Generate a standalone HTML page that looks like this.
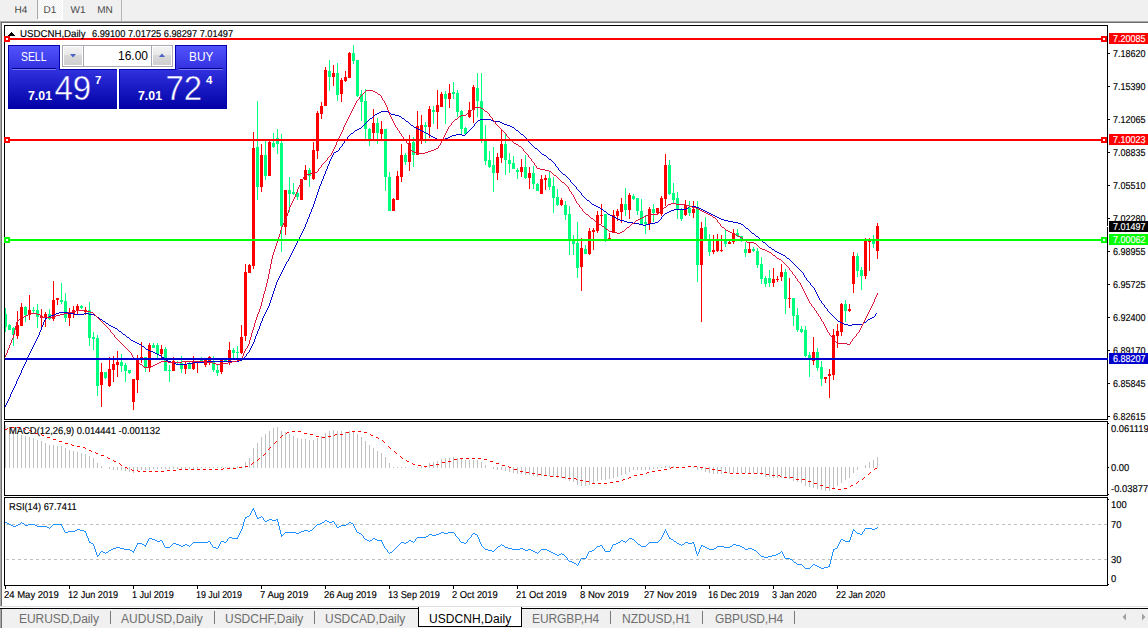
<!DOCTYPE html><html><head><meta charset="utf-8"><title>USDCNH,Daily</title><style>
*{margin:0;padding:0;box-sizing:border-box}
html,body{width:1148px;height:628px;overflow:hidden;background:#fff;font-family:"Liberation Sans",sans-serif;}
#root{position:relative;width:1148px;height:628px;overflow:hidden;background:#fff}
.abs{position:absolute}
#toolbar{left:0;top:0;width:1148px;height:21px;background:#f0f0f0}
.tf{position:absolute;top:0.5px;height:20px;font-size:10px;line-height:20px;color:#484848;text-rendering:geometricPrecision;text-align:center}
#tbline1{left:0;top:21px;width:1148px;height:1px;background:#a8a8a8}
#tbline2{left:1px;top:22px;width:1147px;height:1px;background:#6c6c6c}
#leftedge{left:0;top:22px;width:2px;height:584px;background:#6c6c6c;border-left:1px solid #a8a8a8}
.win{position:absolute;border:1px solid #000;border-right:none;background:transparent}
.ax{position:absolute;font-size:10px;line-height:10px;color:#000;white-space:nowrap;transform-origin:0 0;transform:scaleX(0.9);text-rendering:geometricPrecision;-webkit-text-stroke-width:0.15px}
.tag{position:absolute;left:1109px;width:39px;height:11px}
.tick{position:absolute;left:1108px;width:2px;height:1px;background:#000}
.dl{position:absolute;top:591px;font-size:10px;line-height:10px;white-space:nowrap;color:#000;text-rendering:geometricPrecision;-webkit-text-stroke-width:0.15px;transform-origin:0 0;transform:scaleX(0.93)}
.dt{position:absolute;top:586px;width:1px;height:3px;background:#000}
#tabbar{left:0;top:609px;width:1148px;height:19px;background:#f0f0f0}
.tab{position:absolute;top:612px;font-size:12px;line-height:14px;color:#6e6e6e;white-space:nowrap}
.sep{position:absolute;top:611px;width:1px;height:13px;background:#7a7a7a}
</style></head><body><div id="root">
<div id="toolbar" class="abs"></div>
<div class="abs" style="left:38px;top:0;width:25px;height:20px;background:#fff"></div>
<div class="abs" style="left:38px;top:0;width:24px;height:19px;background-color:#f0f0f0;background-image:repeating-conic-gradient(#fff 0 25%,#f0f0f0 0 50%);background-size:2px 2px"></div>
<div class="abs" style="left:37px;top:0;width:1px;height:19px;background:#a8a8a8"></div>
<div class="abs" style="left:121px;top:0px;width:1px;height:21px;background:#b5b5b5"></div>
<div class="tf" style="left:8px;width:26px">H4</div>
<div class="tf" style="left:37px;width:26px">D1</div>
<div class="tf" style="left:65px;width:26px">W1</div>
<div class="tf" style="left:92px;width:26px">MN</div>
<div id="tbline1" class="abs"></div><div id="tbline2" class="abs"></div>
<div id="leftedge" class="abs"></div>
<div class="win" style="left:4px;top:25px;width:1103px;height:395px"></div>
<div class="win" style="left:4px;top:421px;width:1103px;height:75px"></div>
<div class="win" style="left:4px;top:497px;width:1103px;height:89px"></div>
<div class="abs" style="left:1107px;top:25px;width:1px;height:395px;background:#000"></div>
<div class="abs" style="left:1107px;top:421px;width:1px;height:75px;background:#000"></div>
<div class="abs" style="left:1107px;top:497px;width:1px;height:89px;background:#000"></div>
<svg class="abs" style="left:0;top:0" width="1148" height="628" viewBox="0 0 1148 628" shape-rendering="crispEdges">
<defs><clipPath id="cm"><rect x="5" y="26" width="1102" height="393"/></clipPath><clipPath id="c2"><rect x="5" y="422" width="1102" height="73"/></clipPath><clipPath id="c3"><rect x="5" y="498" width="1102" height="87"/></clipPath></defs>
<g clip-path="url(#cm)">
<path fill="#00ff7f" d="M5 308h1v24h-1zM4 314h3v13h-3zM9 324h1v6h-1zM8 325h3v5h-3zM13 327h1v19h-1zM12 328h3v7h-3zM25 306h1v16h-1zM24 307h3v8h-3zM33 307h1v6h-1zM32 310h3v1h-3zM37 304h1v24h-1zM36 310h3v7h-3zM49 309h1v11h-1zM48 314h3v5h-3zM61 283h1v21h-1zM60 300h3v2h-3zM65 293h1v29h-1zM64 301h3v17h-3zM81 305h1v4h-1zM80 306h3v2h-3zM89 302h1v44h-1zM88 310h3v28h-3zM93 332h1v18h-1zM92 337h3v2h-3zM97 335h1v61h-1zM96 338h3v48h-3zM105 372h1v7h-1zM104 372h3v6h-3zM121 354h1v18h-1zM120 362h3v4h-3zM125 363h1v19h-1zM124 365h3v6h-3zM129 370h1v4h-1zM128 370h3v3h-3zM145 357h1v15h-1zM144 357h3v10h-3zM153 343h1v5h-1zM152 345h3v3h-3zM157 343h1v15h-1zM156 345h3v9h-3zM165 347h1v24h-1zM164 349h3v22h-3zM169 365h1v17h-1zM168 370h3v1h-3zM177 361h1v3h-1zM176 362h3v1h-3zM181 356h1v17h-1zM180 363h3v6h-3zM189 361h1v8h-1zM188 364h3v5h-3zM201 357h1v5h-1zM200 359h3v2h-3zM213 356h1v16h-1zM212 361h3v9h-3zM217 365h1v11h-1zM216 370h3v3h-3zM225 360h1v1h-1zM224 360h3v1h-3zM233 348h1v10h-1zM232 350h3v3h-3zM237 346h1v12h-1zM236 352h3v1h-3zM257 101h1v99h-1zM256 147h3v40h-3zM265 141h1v39h-1zM264 155h3v21h-3zM273 133h1v15h-1zM272 143h3v4h-3zM277 129h1v25h-1zM276 138h3v6h-3zM281 134h1v118h-1zM280 143h3v83h-3zM289 177h1v35h-1zM288 190h3v4h-3zM293 183h1v12h-1zM292 192h3v2h-3zM297 192h1v8h-1zM296 193h3v4h-3zM309 168h1v19h-1zM308 170h3v6h-3zM329 60h1v31h-1zM328 71h3v6h-3zM337 63h1v38h-1zM336 73h3v22h-3zM353 45h1v19h-1zM352 53h3v8h-3zM357 60h1v37h-1zM356 60h3v36h-3zM361 90h1v31h-1zM360 94h3v8h-3zM365 89h1v50h-1zM364 101h3v28h-3zM369 128h1v18h-1zM368 129h3v11h-3zM377 118h1v26h-1zM376 123h3v10h-3zM385 129h1v62h-1zM384 129h3v48h-3zM389 172h1v39h-1zM388 177h3v34h-3zM405 153h1v12h-1zM404 155h3v7h-3zM413 137h1v30h-1zM412 142h3v13h-3zM425 122h1v21h-1zM424 125h3v2h-3zM433 106h1v18h-1zM432 110h3v2h-3zM445 91h1v33h-1zM444 94h3v5h-3zM453 82h1v17h-1zM452 92h3v2h-3zM457 90h1v27h-1zM456 93h3v19h-3zM461 110h1v24h-1zM460 111h3v18h-3zM465 127h1v8h-1zM464 128h3v6h-3zM477 73h1v44h-1zM476 88h3v13h-3zM481 73h1v70h-1zM480 101h3v39h-3zM485 125h1v40h-1zM484 139h3v22h-3zM489 151h1v17h-1zM488 160h3v7h-3zM493 147h1v45h-1zM492 165h3v8h-3zM505 134h1v41h-1zM504 144h3v16h-3zM509 153h1v20h-1zM508 160h3v4h-3zM513 156h1v13h-1zM512 163h3v6h-3zM517 168h1v11h-1zM516 170h3v2h-3zM525 155h1v24h-1zM524 167h3v11h-3zM533 166h1v23h-1zM532 173h3v11h-3zM537 183h1v8h-1zM536 184h3v7h-3zM549 172h1v18h-1zM548 178h3v9h-3zM553 177h1v36h-1zM552 186h3v12h-3zM557 189h1v17h-1zM556 197h3v8h-3zM565 201h1v19h-1zM564 205h3v10h-3zM569 206h1v49h-1zM568 214h3v26h-3zM573 235h1v20h-1zM572 239h3v5h-3zM577 222h1v56h-1zM576 243h3v25h-3zM585 245h1v9h-1zM584 249h3v5h-3zM605 214h1v28h-1zM604 214h3v26h-3zM625 188h1v28h-1zM624 204h3v6h-3zM633 194h1v6h-1zM632 196h3v3h-3zM637 198h1v17h-1zM636 198h3v13h-3zM641 199h1v25h-1zM640 211h3v13h-3zM645 215h1v19h-1zM644 222h3v2h-3zM653 204h1v18h-1zM652 209h3v4h-3zM669 160h1v35h-1zM668 165h3v29h-3zM673 183h1v20h-1zM672 193h3v7h-3zM677 192h1v27h-1zM676 198h3v12h-3zM681 208h1v13h-1zM680 210h3v9h-3zM689 201h1v15h-1zM688 208h3v5h-3zM697 201h1v81h-1zM696 208h3v57h-3zM705 217h1v23h-1zM704 227h3v13h-3zM709 234h1v22h-1zM708 241h3v11h-3zM725 230h1v17h-1zM724 241h3v3h-3zM737 229h1v8h-1zM736 233h3v3h-3zM741 236h1v6h-1zM740 236h3v3h-3zM745 242h1v15h-1zM744 249h3v4h-3zM753 247h1v5h-1zM752 249h3v2h-3zM757 248h1v20h-1zM756 251h3v14h-3zM761 257h1v27h-1zM760 264h3v15h-3zM765 276h1v11h-1zM764 278h3v6h-3zM769 270h1v17h-1zM768 278h3v5h-3zM785 269h1v45h-1zM784 272h3v27h-3zM793 298h1v28h-1zM792 298h3v18h-3zM797 308h1v24h-1zM796 315h3v15h-3zM801 326h1v7h-1zM800 329h3v3h-3zM805 326h1v31h-1zM804 330h3v26h-3zM809 352h1v25h-1zM808 355h3v5h-3zM817 348h1v23h-1zM816 352h3v16h-3zM821 361h1v25h-1zM820 367h3v12h-3zM845 300h1v22h-1zM844 304h3v7h-3zM857 253h1v24h-1zM856 256h3v15h-3zM861 267h1v23h-1zM860 270h3v6h-3zM873 235h1v13h-1zM872 241h3v3h-3z"/>
<path fill="#ff0000" d="M17 311h1v28h-1zM16 325h3v11h-3zM21 303h1v23h-1zM20 307h3v19h-3zM29 295h1v25h-1zM28 310h3v5h-3zM41 309h1v18h-1zM40 316h3v2h-3zM45 312h1v15h-1zM44 314h3v3h-3zM53 281h1v40h-1zM52 300h3v19h-3zM57 298h1v7h-1zM56 298h3v2h-3zM69 308h1v18h-1zM68 313h3v5h-3zM73 306h1v12h-1zM72 310h3v4h-3zM77 304h1v10h-1zM76 306h3v5h-3zM85 307h1v8h-1zM84 310h3v2h-3zM101 363h1v44h-1zM100 372h3v13h-3zM109 357h1v30h-1zM108 369h3v17h-3zM113 356h1v26h-1zM112 364h3v6h-3zM117 351h1v26h-1zM116 362h3v3h-3zM133 379h1v31h-1zM132 379h3v23h-3zM137 355h1v38h-1zM136 360h3v20h-3zM141 342h1v21h-1zM140 357h3v2h-3zM149 343h1v29h-1zM148 345h3v22h-3zM161 345h1v13h-1zM160 349h3v5h-3zM173 357h1v14h-1zM172 361h3v10h-3zM185 361h1v13h-1zM184 364h3v5h-3zM193 356h1v14h-1zM192 361h3v8h-3zM197 361h1v12h-1zM196 361h3v2h-3zM205 358h1v9h-1zM204 360h3v5h-3zM209 356h1v9h-1zM208 357h3v4h-3zM221 360h1v14h-1zM220 360h3v12h-3zM229 342h1v23h-1zM228 350h3v11h-3zM241 325h1v29h-1zM240 337h3v16h-3zM245 264h1v77h-1zM244 272h3v64h-3zM249 264h1v9h-1zM248 265h3v8h-3zM253 132h1v137h-1zM252 148h3v118h-3zM261 144h1v48h-1zM260 155h3v32h-3zM269 141h1v35h-1zM268 142h3v34h-3zM285 190h1v45h-1zM284 190h3v37h-3zM301 179h1v21h-1zM300 179h3v21h-3zM305 165h1v15h-1zM304 170h3v10h-3zM313 142h1v38h-1zM312 150h3v29h-3zM317 111h1v48h-1zM316 113h3v38h-3zM321 102h1v17h-1zM320 106h3v8h-3zM325 67h1v39h-1zM324 70h3v36h-3zM333 65h1v21h-1zM332 73h3v4h-3zM341 78h1v24h-1zM340 80h3v14h-3zM345 71h1v11h-1zM344 77h3v4h-3zM349 52h1v26h-1zM348 53h3v25h-3zM373 109h1v30h-1zM372 123h3v10h-3zM381 121h1v18h-1zM380 129h3v5h-3zM393 198h1v13h-1zM392 199h3v12h-3zM397 171h1v29h-1zM396 176h3v24h-3zM401 144h1v38h-1zM400 155h3v22h-3zM409 135h1v36h-1zM408 143h3v19h-3zM417 111h1v44h-1zM416 126h3v29h-3zM421 115h1v29h-1zM420 125h3v15h-3zM429 106h1v32h-1zM428 109h3v18h-3zM437 90h1v39h-1zM436 105h3v7h-3zM441 92h1v15h-1zM440 94h3v13h-3zM449 84h1v24h-1zM448 93h3v6h-3zM469 102h1v16h-1zM468 110h3v7h-3zM473 85h1v38h-1zM472 87h3v23h-3zM497 153h1v27h-1zM496 157h3v16h-3zM501 129h1v34h-1zM500 144h3v14h-3zM521 159h1v18h-1zM520 167h3v5h-3zM529 167h1v22h-1zM528 173h3v5h-3zM541 175h1v19h-1zM540 179h3v15h-3zM545 175h1v15h-1zM544 178h3v2h-3zM561 198h1v8h-1zM560 200h3v5h-3zM581 238h1v53h-1zM580 248h3v19h-3zM589 228h1v27h-1zM588 231h3v23h-3zM593 228h1v22h-1zM592 230h3v2h-3zM597 211h1v22h-1zM596 215h3v16h-3zM601 204h1v20h-1zM600 215h3v1h-3zM609 233h1v7h-1zM608 238h3v2h-3zM613 210h1v23h-1zM612 215h3v18h-3zM617 209h1v12h-1zM616 211h3v5h-3zM621 198h1v25h-1zM620 204h3v8h-3zM629 193h1v26h-1zM628 195h3v15h-3zM649 207h1v23h-1zM648 209h3v15h-3zM657 208h1v6h-1zM656 208h3v5h-3zM661 196h1v20h-1zM660 198h3v16h-3zM665 154h1v52h-1zM664 165h3v34h-3zM685 200h1v16h-1zM684 205h3v10h-3zM693 201h1v17h-1zM692 209h3v4h-3zM701 222h1v100h-1zM700 228h3v37h-3zM713 235h1v19h-1zM712 250h3v2h-3zM717 234h1v18h-1zM716 241h3v10h-3zM721 235h1v17h-1zM720 250h3v1h-3zM729 241h1v3h-1zM728 242h3v2h-3zM733 229h1v15h-1zM732 233h3v9h-3zM749 243h1v10h-1zM748 249h3v4h-3zM773 268h1v19h-1zM772 279h3v4h-3zM777 276h1v6h-1zM776 279h3v1h-3zM781 264h1v17h-1zM780 272h3v5h-3zM789 278h1v30h-1zM788 298h3v1h-3zM813 337h1v28h-1zM812 352h3v9h-3zM825 377h1v6h-1zM824 377h3v2h-3zM829 369h1v29h-1zM828 374h3v2h-3zM833 329h1v51h-1zM832 335h3v40h-3zM837 324h1v24h-1zM836 331h3v5h-3zM841 303h1v33h-1zM840 304h3v28h-3zM849 304h1v8h-1zM848 309h3v2h-3zM853 252h1v41h-1zM852 256h3v28h-3zM865 238h1v41h-1zM864 239h3v37h-3zM869 238h1v33h-1zM868 239h3v3h-3zM877 223h1v36h-1zM876 226h3v25h-3z"/>
<path fill="#0000cd" d="M437 139h3v1h-3zM443 139h2v1h-2zM168 361h3v1h-3zM207 361h32v1h-32zM174 363h2v1h-2zM187 363h6v1h-6zM59 312h9v1h-9zM431 136h2v1h-2zM450 136h2v1h-2zM616 218h2v1h-2zM719 218h2v1h-2zM608 214h2v1h-2zM711 214h2v1h-2zM594 205h2v1h-2zM639 224h4v1h-4zM646 224h4v1h-4zM741 224h2v1h-2zM56 313h3v1h-3zM68 313h6v1h-6zM84 313h5v1h-5zM844 324h4v1h-4zM852 324h11v1h-11zM752 233h2v1h-2zM133 341h2v1h-2zM840 322h2v1h-2zM864 322h2v1h-2zM176 364h11v1h-11zM601 209h2v1h-2zM674 209h12v1h-12zM701 209h2v1h-2zM424 132h2v1h-2zM119 331h2v1h-2zM763 242h2v1h-2zM633 223h6v1h-6zM650 223h5v1h-5zM738 223h3v1h-3zM787 258h2v1h-2zM115 328h2v1h-2zM612 216h2v1h-2zM715 216h2v1h-2zM127 337h2v1h-2zM542 154h2v1h-2zM667 212h2v1h-2zM707 212h2v1h-2zM406 121h2v1h-2zM493 121h7v1h-7zM137 343h2v1h-2zM592 204h2v1h-2zM375 114h2v1h-2zM391 114h4v1h-4zM429 135h2v1h-2zM452 135h4v1h-4zM462 135h3v1h-3zM123 334h2v1h-2zM131 340h2v1h-2zM381 111h7v1h-7zM351 133h2v1h-2zM426 133h2v1h-2zM620 220h4v1h-4zM724 220h4v1h-4zM111 326h2v1h-2zM414 127h2v1h-2zM512 127h2v1h-2zM671 210h3v1h-3zM703 210h2v1h-2zM480 119h11v1h-11zM598 207h2v1h-2zM696 207h3v1h-3zM51 315h3v1h-3zM94 315h2v1h-2zM357 129h2v1h-2zM418 129h2v1h-2zM54 314h2v1h-2zM74 314h10v1h-10zM89 314h5v1h-5zM370 118h2v1h-2zM402 118h2v1h-2zM411 125h2v1h-2zM507 125h3v1h-3zM171 362h3v1h-3zM193 362h14v1h-14zM47 317h2v1h-2zM97 317h2v1h-2zM872 317h2v1h-2zM686 208h2v1h-2zM699 208h2v1h-2zM777 252h2v1h-2zM618 219h2v1h-2zM721 219h3v1h-3zM395 115h4v1h-4zM665 213h2v1h-2zM709 213h2v1h-2zM359 128h2v1h-2zM416 128h2v1h-2zM45 318h2v1h-2zM870 318h2v1h-2zM610 215h2v1h-2zM713 215h2v1h-2zM148 350h2v1h-2zM379 112h2v1h-2zM388 112h2v1h-2zM440 140h3v1h-3zM336 151h2v1h-2zM781 254h2v1h-2zM549 159h2v1h-2zM775 251h2v1h-2zM103 321h2v1h-2zM838 321h2v1h-2zM435 138h2v1h-2zM445 138h3v1h-3zM162 357h2v1h-2zM456 134h6v1h-6zM521 134h2v1h-2zM624 221h3v1h-3zM728 221h5v1h-5zM355 130h2v1h-2zM420 130h2v1h-2zM516 130h2v1h-2zM504 124h3v1h-3zM106 323h2v1h-2zM842 323h2v1h-2zM100 319h2v1h-2zM868 319h2v1h-2zM166 360h2v1h-2zM239 360h3v1h-3zM627 222h6v1h-6zM655 222h3v1h-3zM733 222h5v1h-5zM563 174h2v1h-2zM109 325h2v1h-2zM848 325h4v1h-4zM155 353h2v1h-2zM604 211h2v1h-2zM669 211h2v1h-2zM705 211h2v1h-2zM159 355h2v1h-2zM478 120h2v1h-2zM491 120h2v1h-2zM596 206h2v1h-2zM689 206h7v1h-7zM150 351h3v1h-3zM500 122h2v1h-2zM614 217h2v1h-2zM717 217h2v1h-2zM153 352h2v1h-2zM544 155h2v1h-2zM643 225h3v1h-3zM769 247h2v1h-2zM49 316h2v1h-2zM157 354h2v1h-2zM510 126h2v1h-2zM433 137h2v1h-2zM448 137h2v1h-2zM779 253h2v1h-2zM334 152h2v1h-2zM377 113h2v1h-2zM139 344h2v1h-2zM113 327h2v1h-2zM135 342h2v1h-2zM535 148h2v1h-2zM783 255h2v1h-2zM587 200h2v1h-2zM422 131h2v1h-2zM502 123h2v1h-2zM746 228h2v1h-2zM146 349h2v1h-2zM756 236h2v1h-2zM399 116h2v1h-2zM772 249h2v1h-2zM142 346h2v1h-2zM346 139h1v1h-1zM326 169h1v2h-1zM20 373h1v2h-1zM524 136h1v1h-1zM265 312h1v2h-1zM32 347h1v2h-1zM876 313h1v1h-1zM329 161h1v3h-1zM467 132h1v1h-1zM318 189h1v3h-1zM786 257h1v1h-1zM531 144h1v1h-1zM257 331h1v3h-1zM798 268h1v1h-1zM590 202h1v1h-1zM569 179h1v1h-1zM297 241h1v2h-1zM808 281h1v1h-1zM309 214h1v3h-1zM108 324h1v1h-1zM273 291h1v3h-1zM591 203h1v1h-1zM575 186h1v1h-1zM554 163h1v1h-1zM130 339h1v1h-1zM313 204h1v3h-1zM277 280h1v2h-1zM820 300h1v1h-1zM576 187h1v2h-1zM317 192h1v3h-1zM349 135h1v1h-1zM256 334h1v2h-1zM36 339h1v2h-1zM520 133h1v1h-1zM361 127h1v1h-1zM15 384h1v2h-1zM333 153h1v2h-1zM27 357h1v3h-1zM353 132h1v1h-1zM797 267h1v1h-1zM39 332h1v3h-1zM288 259h1v2h-1zM312 207h1v2h-1zM255 336h1v3h-1zM126 336h1v1h-1zM553 162h1v1h-1zM301 233h1v2h-1zM325 171h1v3h-1zM474 124h1v2h-1zM568 178h1v1h-1zM264 314h1v2h-1zM292 251h1v2h-1zM14 386h1v2h-1zM26 360h1v2h-1zM284 266h1v2h-1zM819 298h1v2h-1zM164 358h1v1h-1zM7 401h1v2h-1zM471 128h1v1h-1zM816 292h1v2h-1zM19 375h1v2h-1zM31 349h1v2h-1zM43 322h1v3h-1zM749 230h1v1h-1zM243 358h1v1h-1zM830 313h1v1h-1zM10 394h1v3h-1zM252 344h1v2h-1zM340 147h1v1h-1zM774 250h1v1h-1zM538 150h1v1h-1zM586 199h1v1h-1zM272 294h1v3h-1zM316 195h1v3h-1zM268 306h1v2h-1zM259 326h1v3h-1zM296 243h1v2h-1zM308 217h1v2h-1zM428 134h1v1h-1zM837 320h1v1h-1zM279 276h1v2h-1zM99 318h1v1h-1zM811 285h1v1h-1zM863 323h1v1h-1zM38 335h1v2h-1zM578 190h1v1h-1zM875 314h1v2h-1zM307 219h1v3h-1zM328 164h1v2h-1zM867 320h1v1h-1zM748 229h1v1h-1zM815 290h1v2h-1zM579 191h1v1h-1zM122 333h1v1h-1zM662 216h1v1h-1zM585 198h1v1h-1zM324 174h1v2h-1zM368 120h1v1h-1zM660 219h1v1h-1zM276 282h1v3h-1zM793 263h1v1h-1zM291 253h1v2h-1zM515 129h1v1h-1zM466 133h1v1h-1zM570 180h1v2h-1zM744 226h1v1h-1zM144 347h1v1h-1zM527 139h1v1h-1zM271 297h1v3h-1zM571 182h1v1h-1zM18 377h1v2h-1zM9 397h1v2h-1zM30 351h1v2h-1zM21 370h1v3h-1zM745 227h1v1h-1zM332 155h1v2h-1zM818 296h1v2h-1zM533 146h1v1h-1zM275 285h1v3h-1zM800 270h1v1h-1zM287 261h1v1h-1zM821 301h1v2h-1zM556 166h1v1h-1zM759 238h1v1h-1zM311 209h1v3h-1zM534 147h1v1h-1zM254 339h1v3h-1zM118 330h1v1h-1zM822 303h1v1h-1zM792 262h1v1h-1zM348 136h1v1h-1zM121 332h1v1h-1zM246 354h1v2h-1zM270 300h1v3h-1zM295 245h1v2h-1zM343 143h1v1h-1zM274 288h1v3h-1zM283 268h1v2h-1zM263 316h1v2h-1zM525 137h1v1h-1zM6 403h1v2h-1zM799 269h1v1h-1zM96 316h1v1h-1zM473 126h1v1h-1zM25 362h1v2h-1zM743 225h1v1h-1zM526 138h1v1h-1zM323 176h1v3h-1zM37 337h1v2h-1zM327 166h1v3h-1zM755 235h1v1h-1zM413 126h1v1h-1zM282 270h1v2h-1zM339 148h1v2h-1zM363 125h1v1h-1zM817 294h1v2h-1zM262 318h1v3h-1zM42 325h1v2h-1zM600 208h1v1h-1zM810 283h1v2h-1zM814 288h1v2h-1zM278 278h1v2h-1zM13 388h1v2h-1zM832 315h1v1h-1zM754 234h1v1h-1zM765 243h1v1h-1zM540 152h1v1h-1zM331 157h1v2h-1zM306 222h1v2h-1zM286 262h1v2h-1zM44 320h1v2h-1zM766 244h1v1h-1zM541 153h1v1h-1zM253 342h1v2h-1zM117 329h1v1h-1zM555 164h1v2h-1zM558 168h1v2h-1zM269 303h1v3h-1zM290 255h1v2h-1zM824 305h1v2h-1zM559 170h1v1h-1zM374 115h1v1h-1zM165 359h1v1h-1zM581 193h1v2h-1zM41 327h1v3h-1zM750 231h1v1h-1zM8 399h1v2h-1zM408 122h1v1h-1zM831 314h1v1h-1zM539 151h1v1h-1zM314 201h1v3h-1zM476 122h1v1h-1zM281 272h1v2h-1zM528 140h1v2h-1zM795 265h1v1h-1zM245 356h1v1h-1zM248 352h1v1h-1zM529 142h1v1h-1zM294 247h1v2h-1zM342 144h1v2h-1zM664 214h1v1h-1zM573 184h1v1h-1zM812 286h1v1h-1zM12 390h1v2h-1zM305 224h1v3h-1zM24 364h1v2h-1zM761 240h1v1h-1zM659 220h1v1h-1zM813 287h1v1h-1zM468 131h1v1h-1zM580 192h1v1h-1zM322 179h1v2h-1zM105 322h1v1h-1zM365 123h1v1h-1zM261 321h1v2h-1zM565 175h1v1h-1zM35 341h1v2h-1zM289 257h1v2h-1zM350 134h1v1h-1zM161 356h1v1h-1zM557 167h1v1h-1zM16 381h1v3h-1zM260 323h1v3h-1zM40 330h1v2h-1zM345 140h1v1h-1zM300 235h1v2h-1zM760 239h1v1h-1zM285 264h1v2h-1zM372 117h1v1h-1zM794 264h1v1h-1zM293 249h1v2h-1zM145 348h1v1h-1zM572 183h1v1h-1zM321 181h1v3h-1zM354 131h1v1h-1zM11 392h1v2h-1zM801 271h1v1h-1zM23 366h1v2h-1zM771 248h1v1h-1zM823 304h1v1h-1zM805 277h1v1h-1zM330 159h1v2h-1zM827 309h1v2h-1zM582 195h1v1h-1zM561 172h1v1h-1zM583 196h1v1h-1zM410 124h1v1h-1zM833 316h1v1h-1zM244 357h1v1h-1zM304 227h1v2h-1zM834 317h1v1h-1zM661 217h1v2h-1zM804 275h1v2h-1zM341 146h1v1h-1zM767 245h1v1h-1zM251 346h1v2h-1zM267 308h1v2h-1zM280 274h1v2h-1zM790 260h1v1h-1zM546 156h1v1h-1zM826 308h1v1h-1zM141 345h1v1h-1zM364 124h1v1h-1zM409 123h1v1h-1zM320 184h1v2h-1zM523 135h1v1h-1zM344 141h1v2h-1zM470 129h1v1h-1zM299 237h1v2h-1zM874 316h1v1h-1zM803 273h1v2h-1zM315 198h1v3h-1zM866 321h1v1h-1zM530 143h1v1h-1zM319 186h1v3h-1zM825 307h1v1h-1zM560 171h1v1h-1zM807 280h1v1h-1zM5 405h1v2h-1zM367 121h1v1h-1zM789 259h1v1h-1zM390 113h1v1h-1zM751 232h1v1h-1zM762 241h1v1h-1zM34 343h1v2h-1zM303 229h1v2h-1zM22 368h1v2h-1zM247 353h1v1h-1zM250 348h1v2h-1zM796 266h1v1h-1zM552 161h1v1h-1zM242 359h1v1h-1zM688 207h1v1h-1zM574 185h1v1h-1zM404 119h1v1h-1zM129 338h1v1h-1zM589 201h1v1h-1zM258 329h1v2h-1zM405 120h1v1h-1zM465 134h1v1h-1zM102 320h1v1h-1zM17 379h1v2h-1zM29 353h1v2h-1zM519 132h1v1h-1zM828 311h1v1h-1zM298 239h1v2h-1zM829 312h1v1h-1zM347 137h1v2h-1zM566 176h1v1h-1zM266 310h1v2h-1zM537 149h1v1h-1zM362 126h1v1h-1zM567 177h1v1h-1zM551 160h1v1h-1zM607 213h1v1h-1zM806 278h1v2h-1zM785 256h1v1h-1zM125 335h1v1h-1zM477 121h1v1h-1zM836 319h1v1h-1zM802 272h1v1h-1zM33 345h1v2h-1zM518 131h1v1h-1zM577 189h1v1h-1zM548 158h1v1h-1zM584 197h1v1h-1zM603 210h1v1h-1zM469 130h1v1h-1zM310 212h1v2h-1zM606 212h1v1h-1zM369 119h1v1h-1zM338 150h1v1h-1zM401 117h1v1h-1zM302 231h1v2h-1zM28 355h1v2h-1zM532 145h1v1h-1zM249 350h1v2h-1zM758 237h1v1h-1zM562 173h1v1h-1zM472 127h1v1h-1zM475 123h1v1h-1zM45 319h1v1h-1zM791 261h1v1h-1zM547 157h1v1h-1zM663 215h1v1h-1zM835 318h1v1h-1zM373 116h1v1h-1zM768 246h1v1h-1zM514 128h1v1h-1zM366 122h1v1h-1zM658 221h1v1h-1zM809 282h1v1h-1z"/>
<path fill="#dc143c" d="M671 203h5v1h-5zM140 364h2v1h-2zM155 364h2v1h-2zM216 364h6v1h-6zM612 232h5v1h-5zM620 232h2v1h-2zM730 232h2v1h-2zM161 361h7v1h-7zM182 361h22v1h-22zM232 361h5v1h-5zM747 242h7v1h-7zM68 312h4v1h-4zM90 312h3v1h-3zM586 214h2v1h-2zM650 214h8v1h-8zM708 214h2v1h-2zM847 344h3v1h-3zM26 315h2v1h-2zM56 315h4v1h-4zM591 218h2v1h-2zM640 218h2v1h-2zM431 150h3v1h-3zM837 343h10v1h-10zM76 310h10v1h-10zM24 316h2v1h-2zM52 316h4v1h-4zM366 90h7v1h-7zM689 206h3v1h-3zM740 237h2v1h-2zM467 113h2v1h-2zM30 313h7v1h-7zM64 313h4v1h-4zM704 212h2v1h-2zM617 233h3v1h-3zM732 233h2v1h-2zM519 146h2v1h-2zM144 367h7v1h-7zM769 252h2v1h-2zM436 148h2v1h-2zM416 153h9v1h-9zM159 362h2v1h-2zM168 362h14v1h-14zM204 362h9v1h-9zM228 362h4v1h-4zM744 240h2v1h-2zM646 215h4v1h-4zM710 215h2v1h-2zM627 227h2v1h-2zM722 227h2v1h-2zM17 320h2v1h-2zM22 317h2v1h-2zM41 317h11v1h-11zM668 204h3v1h-3zM676 204h9v1h-9zM773 255h2v1h-2zM545 170h4v1h-4zM455 119h2v1h-2zM412 151h2v1h-2zM428 151h3v1h-3zM28 314h2v1h-2zM37 314h3v1h-3zM60 314h4v1h-4zM151 366h2v1h-2zM72 311h4v1h-4zM86 311h4v1h-4zM434 149h2v1h-2zM414 152h2v1h-2zM425 152h3v1h-3zM698 209h2v1h-2zM475 107h6v1h-6zM157 363h2v1h-2zM213 363h3v1h-3zM222 363h6v1h-6zM459 116h2v1h-2zM537 168h3v1h-3zM373 91h2v1h-2zM306 174h4v1h-4zM685 205h4v1h-4zM642 217h2v1h-2zM713 217h2v1h-2zM700 210h2v1h-2zM540 169h5v1h-5zM762 249h3v1h-3zM595 221h2v1h-2zM461 115h5v1h-5zM19 319h2v1h-2zM514 143h2v1h-2zM375 92h2v1h-2zM481 108h2v1h-2zM767 251h2v1h-2zM636 220h2v1h-2zM237 360h3v1h-3zM485 111h2v1h-2zM310 173h5v1h-5zM696 208h2v1h-2zM664 207h2v1h-2zM692 207h4v1h-4zM599 224h2v1h-2zM765 250h2v1h-2zM754 243h2v1h-2zM644 216h2v1h-2zM609 231h3v1h-3zM622 231h2v1h-2zM728 231h2v1h-2zM516 144h2v1h-2zM554 175h2v1h-2zM602 226h2v1h-2zM315 172h2v1h-2zM153 365h2v1h-2zM706 213h2v1h-2zM736 235h2v1h-2zM638 219h2v1h-2zM562 182h2v1h-2zM702 211h2v1h-2zM777 258h2v1h-2zM606 229h2v1h-2zM632 223h2v1h-2zM726 230h2v1h-2zM738 236h2v1h-2zM734 234h2v1h-2zM378 94h2v1h-2zM779 259h2v1h-2zM760 248h2v1h-2zM549 171h2v1h-2zM472 109h2v1h-2zM291 203h1v2h-1zM575 199h1v2h-1zM303 177h1v2h-1zM13 334h1v4h-1zM864 320h1v2h-1zM269 269h1v5h-1zM266 283h1v4h-1zM876 295h1v2h-1zM381 96h1v2h-1zM399 131h1v2h-1zM605 228h1v1h-1zM568 187h1v2h-1zM576 201h1v2h-1zM453 121h1v1h-1zM270 264h1v5h-1zM392 119h1v2h-1zM509 138h1v1h-1zM853 338h1v1h-1zM248 344h1v2h-1zM40 315h1v2h-1zM395 125h1v2h-1zM9 345h1v3h-1zM286 216h1v3h-1zM403 137h1v2h-1zM333 149h1v2h-1zM869 310h1v2h-1zM131 353h1v2h-1zM345 123h1v2h-1zM448 127h1v2h-1zM860 328h1v2h-1zM808 299h1v2h-1zM666 206h1v1h-1zM265 287h1v4h-1zM816 311h1v2h-1zM358 99h1v1h-1zM494 121h1v1h-1zM338 138h1v2h-1zM278 237h1v3h-1zM793 274h1v1h-1zM350 113h1v2h-1zM244 351h1v2h-1zM659 212h1v1h-1zM282 225h1v2h-1zM794 275h1v1h-1zM384 101h1v2h-1zM601 225h1v1h-1zM856 334h1v2h-1zM298 187h1v2h-1zM273 252h1v3h-1zM571 192h1v2h-1zM579 205h1v2h-1zM354 105h1v2h-1zM261 302h1v4h-1zM277 240h1v3h-1zM108 328h1v1h-1zM572 194h1v1h-1zM398 130h1v1h-1zM243 353h1v3h-1zM252 330h1v3h-1zM281 227h1v3h-1zM290 205h1v2h-1zM130 352h1v1h-1zM391 117h1v2h-1zM302 179h1v2h-1zM100 320h1v1h-1zM402 136h1v1h-1zM811 304h1v2h-1zM361 95h1v1h-1zM318 169h1v2h-1zM557 177h1v1h-1zM260 306h1v3h-1zM826 328h1v2h-1zM775 256h1v1h-1zM804 291h1v2h-1zM527 154h1v1h-1zM786 265h1v1h-1zM8 348h1v2h-1zM471 110h1v1h-1zM807 297h1v2h-1zM815 310h1v1h-1zM836 342h1v1h-1zM868 312h1v2h-1zM797 279h1v2h-1zM501 129h1v1h-1zM377 93h1v1h-1zM289 207h1v3h-1zM107 327h1v1h-1zM380 95h1v1h-1zM264 291h1v3h-1zM16 322h1v4h-1zM383 100h1v1h-1zM349 115h1v2h-1zM447 129h1v2h-1zM329 156h1v1h-1zM567 186h1v1h-1zM294 197h1v2h-1zM570 191h1v1h-1zM578 204h1v1h-1zM133 357h1v1h-1zM394 123h1v2h-1zM715 218h1v1h-1zM859 330h1v2h-1zM11 340h1v3h-1zM321 165h1v2h-1zM582 209h1v2h-1zM493 120h1v1h-1zM324 162h1v1h-1zM451 123h1v2h-1zM390 115h1v2h-1zM556 176h1v1h-1zM872 304h1v2h-1zM829 333h1v2h-1zM443 137h1v2h-1zM118 340h1v1h-1zM526 153h1v1h-1zM272 255h1v4h-1zM814 308h1v2h-1zM863 322h1v2h-1zM268 274h1v5h-1zM597 222h1v1h-1zM256 317h1v3h-1zM875 297h1v2h-1zM803 289h1v2h-1zM247 346h1v2h-1zM353 107h1v2h-1zM796 278h1v1h-1zM251 333h1v4h-1zM365 91h1v1h-1zM285 219h1v2h-1zM332 151h1v2h-1zM267 279h1v4h-1zM344 125h1v2h-1zM442 139h1v2h-1zM552 173h1v1h-1zM800 283h1v2h-1zM574 197h1v2h-1zM401 134h1v2h-1zM337 140h1v2h-1zM771 253h1v1h-1zM132 355h1v2h-1zM250 337h1v3h-1zM661 210h1v1h-1zM288 210h1v3h-1zM7 350h1v3h-1zM397 128h1v2h-1zM297 189h1v3h-1zM785 264h1v1h-1zM867 314h1v2h-1zM492 118h1v2h-1zM263 294h1v4h-1zM438 146h1v2h-1zM631 224h1v1h-1zM825 326h1v2h-1zM511 140h1v1h-1zM276 243h1v3h-1zM758 246h1v1h-1zM828 332h1v1h-1zM818 314h1v2h-1zM242 356h1v2h-1zM280 230h1v4h-1zM336 142h1v3h-1zM759 247h1v1h-1zM305 175h1v1h-1zM821 319h1v2h-1zM348 117h1v2h-1zM743 239h1v1h-1zM629 226h1v1h-1zM296 192h1v2h-1zM795 276h1v2h-1zM259 309h1v3h-1zM551 172h1v1h-1zM855 336h1v1h-1zM110 330h1v2h-1zM125 347h1v1h-1zM95 315h1v1h-1zM450 125h1v1h-1zM301 181h1v2h-1zM871 306h1v2h-1zM255 320h1v3h-1zM573 195h1v2h-1zM850 342h1v2h-1zM400 133h1v1h-1zM117 339h1v1h-1zM254 323h1v4h-1zM96 316h1v1h-1zM862 324h1v2h-1zM874 299h1v3h-1zM393 121h1v2h-1zM360 96h1v1h-1zM466 114h1v1h-1zM15 326h1v4h-1zM404 139h1v1h-1zM496 124h1v1h-1zM813 307h1v1h-1zM352 109h1v2h-1zM271 259h1v5h-1zM343 127h1v3h-1zM824 324h1v2h-1zM102 322h1v1h-1zM331 153h1v2h-1zM446 131h1v2h-1zM806 295h1v2h-1zM529 157h1v1h-1zM817 313h1v1h-1zM124 346h1v1h-1zM103 323h1v1h-1zM858 332h1v1h-1zM802 287h1v2h-1zM799 282h1v1h-1zM503 131h1v1h-1zM14 330h1v4h-1zM363 93h1v1h-1zM866 316h1v2h-1zM457 118h1v1h-1zM580 207h1v1h-1zM510 139h1v1h-1zM717 220h1v2h-1zM320 167h1v1h-1zM827 330h1v2h-1zM581 208h1v1h-1zM135 359h1v1h-1zM389 112h1v3h-1zM470 111h1v1h-1zM408 144h1v2h-1zM441 141h1v2h-1zM495 122h1v2h-1zM295 194h1v3h-1zM820 317h1v2h-1zM558 178h1v1h-1zM246 348h1v1h-1zM258 312h1v2h-1zM284 221h1v2h-1zM776 257h1v1h-1zM805 293h1v2h-1zM528 155h1v2h-1zM724 228h1v1h-1zM588 215h1v1h-1zM262 298h1v4h-1zM798 281h1v1h-1zM249 340h1v4h-1zM287 213h1v3h-1zM6 353h1v2h-1zM873 302h1v2h-1zM532 161h1v1h-1zM253 327h1v3h-1zM326 160h1v1h-1zM109 329h1v1h-1zM323 163h1v1h-1zM335 145h1v2h-1zM410 148h1v2h-1zM506 134h1v2h-1zM445 133h1v2h-1zM134 358h1v1h-1zM5 355h1v2h-1zM411 150h1v1h-1zM598 223h1v1h-1zM521 147h1v1h-1zM787 266h1v1h-1zM407 143h1v1h-1zM241 358h1v1h-1zM870 308h1v2h-1zM801 285h1v2h-1zM831 336h1v1h-1zM120 342h1v1h-1zM861 326h1v2h-1zM257 314h1v3h-1zM663 208h1v1h-1zM342 130h1v2h-1zM449 126h1v1h-1zM275 246h1v3h-1zM667 205h1v1h-1zM716 219h1v1h-1zM406 141h1v2h-1zM440 143h1v2h-1zM127 349h1v1h-1zM583 211h1v1h-1zM565 184h1v1h-1zM97 317h1v1h-1zM594 220h1v1h-1zM347 119h1v2h-1zM624 230h1v1h-1zM772 254h1v1h-1zM830 335h1v1h-1zM487 112h1v1h-1zM17 321h1v1h-1zM119 341h1v1h-1zM98 318h1v1h-1zM877 293h1v2h-1zM823 322h1v2h-1zM274 249h1v3h-1zM21 318h1v1h-1zM498 126h1v1h-1zM531 159h1v2h-1zM388 110h1v2h-1zM819 316h1v1h-1zM857 333h1v1h-1zM852 339h1v2h-1zM126 348h1v1h-1zM452 122h1v1h-1zM553 174h1v1h-1zM712 216h1v1h-1zM362 94h1v1h-1zM111 332h1v1h-1zM245 349h1v2h-1zM283 223h1v2h-1zM112 333h1v1h-1zM357 100h1v1h-1zM409 146h1v2h-1zM299 185h1v2h-1zM635 221h1v1h-1zM512 141h1v1h-1zM523 149h1v2h-1zM719 223h1v1h-1zM658 213h1v1h-1zM293 199h1v2h-1zM497 125h1v1h-1zM524 151h1v1h-1zM822 321h1v1h-1zM608 230h1v1h-1zM790 270h1v1h-1zM833 338h1v2h-1zM865 318h1v2h-1zM341 132h1v2h-1zM530 158h1v1h-1zM444 135h1v2h-1zM104 324h1v1h-1zM590 217h1v1h-1zM346 121h1v2h-1zM483 109h1v1h-1zM504 132h1v1h-1zM564 183h1v1h-1zM593 219h1v1h-1zM505 133h1v1h-1zM317 171h1v1h-1zM782 261h1v1h-1zM405 140h1v1h-1zM490 116h1v1h-1zM789 268h1v2h-1zM387 107h1v3h-1zM12 338h1v2h-1zM137 361h1v1h-1zM325 161h1v1h-1zM534 163h1v2h-1zM589 216h1v1h-1zM114 335h1v2h-1zM93 313h1v1h-1zM718 222h1v1h-1zM781 260h1v1h-1zM604 227h1v1h-1zM136 360h1v1h-1zM474 108h1v1h-1zM340 134h1v2h-1zM559 179h1v1h-1zM832 337h1v1h-1zM364 92h1v1h-1zM328 157h1v1h-1zM300 183h1v2h-1zM725 229h1v1h-1zM788 267h1v1h-1zM756 244h1v1h-1zM560 180h1v1h-1zM662 209h1v1h-1zM122 344h1v1h-1zM356 101h1v2h-1zM533 162h1v1h-1zM626 228h1v1h-1zM507 136h1v1h-1zM630 225h1v1h-1zM489 114h1v2h-1zM508 137h1v1h-1zM634 222h1v1h-1zM584 212h1v1h-1zM522 148h1v1h-1zM585 213h1v1h-1zM454 120h1v1h-1zM99 319h1v1h-1zM851 341h1v1h-1zM854 337h1v1h-1zM792 272h1v2h-1zM121 343h1v1h-1zM536 166h1v2h-1zM499 127h1v1h-1zM386 105h1v2h-1zM500 128h1v1h-1zM359 97h1v2h-1zM143 366h1v1h-1zM279 234h1v3h-1zM106 326h1v1h-1zM439 145h1v1h-1zM660 211h1v1h-1zM720 224h1v2h-1zM128 350h1v1h-1zM292 201h1v2h-1zM304 176h1v1h-1zM566 185h1v1h-1zM518 145h1v1h-1zM327 158h1v2h-1zM577 203h1v1h-1zM488 113h1v1h-1zM113 334h1v1h-1zM129 351h1v1h-1zM721 226h1v1h-1zM513 142h1v1h-1zM458 117h1v1h-1zM809 301h1v2h-1zM10 343h1v2h-1zM810 303h1v1h-1zM525 152h1v1h-1zM791 271h1v1h-1zM139 363h1v1h-1zM351 111h1v2h-1zM142 365h1v1h-1zM382 98h1v2h-1zM339 136h1v2h-1zM385 103h1v2h-1zM319 168h1v1h-1zM746 241h1v1h-1zM569 189h1v2h-1zM469 112h1v1h-1zM783 262h1v1h-1zM784 263h1v1h-1zM834 340h1v1h-1zM355 103h1v2h-1zM757 245h1v1h-1zM561 181h1v1h-1zM835 341h1v1h-1zM334 147h1v2h-1zM105 325h1v1h-1zM535 165h1v1h-1zM625 229h1v1h-1zM484 110h1v1h-1zM330 155h1v1h-1zM115 337h1v1h-1zM94 314h1v1h-1zM396 127h1v1h-1zM491 117h1v1h-1zM116 338h1v1h-1zM138 362h1v1h-1zM812 306h1v1h-1zM742 238h1v1h-1zM101 321h1v1h-1zM123 345h1v1h-1zM322 164h1v1h-1zM502 130h1v1h-1zM240 359h1v1h-1z"/>
<rect x="5" y="38" width="1102" height="2" fill="#ff0000"/>
<rect x="5" y="139" width="1102" height="2" fill="#ff0000"/>
<rect x="5" y="239" width="1102" height="2" fill="#00ff00"/>
<rect x="5" y="358" width="1102" height="2" fill="#0000cd"/>
</g>
<rect x="1107" y="358" width="1" height="2" fill="#0000cd"/>
<rect x="4" y="36" width="6" height="6" fill="#ff0000"/><rect x="6" y="38" width="2" height="2" fill="#fff"/><rect x="1101" y="36" width="6" height="6" fill="#ff0000"/><rect x="1103" y="38" width="2" height="2" fill="#fff"/>
<rect x="4" y="137" width="6" height="6" fill="#ff0000"/><rect x="6" y="139" width="2" height="2" fill="#fff"/><rect x="1101" y="137" width="6" height="6" fill="#ff0000"/><rect x="1103" y="139" width="2" height="2" fill="#fff"/>
<rect x="4" y="237" width="6" height="6" fill="#00ff00"/><rect x="6" y="239" width="2" height="2" fill="#fff"/><rect x="1101" y="237" width="6" height="6" fill="#00ff00"/><rect x="1103" y="239" width="2" height="2" fill="#fff"/>
<g clip-path="url(#c2)">
<path fill="#c0c0c0" d="M5 425h1v43h-1zM9 427h1v41h-1zM13 430h1v38h-1zM17 433h1v35h-1zM21 435h1v33h-1zM25 436h1v32h-1zM29 437h1v31h-1zM33 438h1v30h-1zM37 440h1v28h-1zM41 441h1v27h-1zM45 443h1v25h-1zM49 445h1v23h-1zM53 445h1v23h-1zM57 446h1v22h-1zM61 446h1v22h-1zM65 448h1v20h-1zM69 450h1v18h-1zM73 451h1v17h-1zM77 452h1v16h-1zM81 453h1v15h-1zM85 454h1v14h-1zM89 456h1v12h-1zM93 458h1v10h-1zM97 463h1v5h-1zM101 466h1v2h-1zM109 467h1v2h-1zM113 467h1v3h-1zM117 467h1v3h-1zM121 467h1v3h-1zM125 467h1v4h-1zM129 467h1v5h-1zM133 467h1v6h-1zM137 467h1v4h-1zM141 467h1v3h-1zM145 467h1v3h-1zM149 467h1v3h-1zM153 467h1v2h-1zM157 467h1v2h-1zM161 467h1v2h-1zM165 467h1v2h-1zM169 467h1v2h-1zM173 467h1v2h-1zM177 467h1v2h-1zM181 467h1v2h-1zM185 467h1v2h-1zM189 467h1v2h-1zM193 467h1v2h-1zM197 467h1v2h-1zM201 467h1v1h-1zM205 467h1v1h-1zM209 467h1v1h-1zM213 467h1v1h-1zM217 467h1v1h-1zM221 467h1v1h-1zM225 467h1v1h-1zM229 467h1v1h-1zM233 467h1v1h-1zM237 466h1v2h-1zM241 466h1v2h-1zM245 462h1v6h-1zM249 458h1v10h-1zM253 448h1v20h-1zM257 443h1v25h-1zM261 437h1v31h-1zM265 434h1v34h-1zM269 431h1v37h-1zM273 428h1v40h-1zM277 427h1v41h-1zM281 431h1v37h-1zM285 432h1v36h-1zM289 434h1v34h-1zM293 436h1v32h-1zM297 438h1v30h-1zM301 439h1v29h-1zM305 439h1v29h-1zM309 440h1v28h-1zM313 440h1v28h-1zM317 438h1v30h-1zM321 436h1v32h-1zM325 433h1v35h-1zM329 431h1v37h-1zM333 430h1v38h-1zM337 431h1v37h-1zM341 431h1v37h-1zM345 432h1v36h-1zM349 431h1v37h-1zM353 431h1v37h-1zM357 434h1v34h-1zM361 437h1v31h-1zM365 441h1v27h-1zM369 445h1v23h-1zM373 448h1v20h-1zM377 451h1v17h-1zM381 453h1v15h-1zM385 457h1v11h-1zM389 463h1v5h-1zM393 467h1v1h-1zM397 467h1v1h-1zM401 467h1v1h-1zM405 467h1v1h-1zM417 467h1v1h-1zM421 466h1v2h-1zM425 466h1v2h-1zM429 463h1v5h-1zM433 462h1v6h-1zM437 461h1v7h-1zM441 459h1v9h-1zM445 458h1v10h-1zM449 458h1v10h-1zM453 457h1v11h-1zM457 458h1v10h-1zM461 459h1v9h-1zM465 460h1v8h-1zM469 460h1v8h-1zM473 460h1v8h-1zM477 460h1v8h-1zM481 462h1v6h-1zM485 465h1v3h-1zM493 467h1v2h-1zM497 467h1v3h-1zM501 467h1v3h-1zM505 467h1v4h-1zM509 467h1v5h-1zM513 467h1v6h-1zM517 467h1v7h-1zM521 467h1v7h-1zM525 467h1v8h-1zM529 467h1v8h-1zM533 467h1v9h-1zM537 467h1v10h-1zM541 467h1v9h-1zM545 467h1v9h-1zM549 467h1v9h-1zM553 467h1v10h-1zM557 467h1v11h-1zM561 467h1v11h-1zM565 467h1v12h-1zM569 467h1v14h-1zM573 467h1v15h-1zM577 467h1v18h-1zM581 467h1v19h-1zM585 467h1v19h-1zM589 467h1v18h-1zM593 467h1v16h-1zM597 467h1v14h-1zM601 467h1v13h-1zM605 467h1v13h-1zM609 467h1v12h-1zM613 467h1v11h-1zM617 467h1v10h-1zM621 467h1v8h-1zM625 467h1v7h-1zM629 467h1v5h-1zM633 467h1v3h-1zM637 467h1v3h-1zM641 467h1v3h-1zM645 467h1v3h-1zM649 467h1v3h-1zM653 467h1v2h-1zM657 467h1v2h-1zM661 467h1v1h-1zM665 466h1v2h-1zM669 466h1v2h-1zM673 466h1v2h-1zM677 467h1v1h-1zM693 467h1v1h-1zM697 467h1v3h-1zM701 467h1v3h-1zM705 467h1v5h-1zM709 467h1v6h-1zM713 467h1v7h-1zM717 467h1v7h-1zM721 467h1v7h-1zM725 467h1v6h-1zM729 467h1v6h-1zM733 467h1v6h-1zM737 467h1v6h-1zM741 467h1v6h-1zM745 467h1v6h-1zM749 467h1v6h-1zM753 467h1v6h-1zM757 467h1v7h-1zM761 467h1v8h-1zM765 467h1v10h-1zM769 467h1v10h-1zM773 467h1v11h-1zM777 467h1v11h-1zM781 467h1v11h-1zM785 467h1v11h-1zM789 467h1v12h-1zM793 467h1v14h-1zM797 467h1v15h-1zM801 467h1v16h-1zM805 467h1v19h-1zM809 467h1v20h-1zM813 467h1v21h-1zM817 467h1v22h-1zM821 467h1v23h-1zM825 467h1v24h-1zM829 467h1v24h-1zM833 467h1v22h-1zM837 467h1v19h-1zM841 467h1v16h-1zM845 467h1v13h-1zM849 467h1v11h-1zM853 467h1v6h-1zM857 467h1v3h-1zM865 465h1v3h-1zM869 462h1v6h-1zM873 460h1v8h-1zM877 457h1v11h-1z"/>
<path fill="#ff0000" d="M245 466h3v1h-3zM424 466h3v1h-3zM688 466h3v1h-3zM694 466h3v1h-3zM526 472h3v1h-3zM647 472h2v1h-2zM724 472h3v1h-3zM623 479h2v1h-2zM796 479h3v1h-3zM802 479h3v1h-3zM562 477h3v1h-3zM629 477h2v1h-2zM784 477h3v1h-3zM790 477h3v1h-3zM114 461h2v1h-2zM407 461h2v1h-2zM448 461h3v1h-3zM490 461h3v1h-3zM125 467h2v1h-2zM239 467h3v1h-3zM509 467h2v1h-2zM671 467h2v1h-2zM676 467h3v1h-3zM682 467h3v1h-3zM700 467h3v1h-3zM316 436h3v1h-3zM328 436h3v1h-3zM496 463h3v1h-3zM454 459h3v1h-3zM484 459h3v1h-3zM418 465h3v1h-3zM430 465h3v1h-3zM502 465h3v1h-3zM227 468h3v1h-3zM233 468h3v1h-3zM706 468h3v1h-3zM875 468h2v1h-2zM532 473h3v1h-3zM730 473h3v1h-3zM736 473h3v1h-3zM742 473h3v1h-3zM748 473h3v1h-3zM754 473h3v1h-3zM760 473h3v1h-3zM59 441h3v1h-3zM179 469h3v1h-3zM185 469h3v1h-3zM191 469h3v1h-3zM197 469h3v1h-3zM203 469h3v1h-3zM209 469h3v1h-3zM215 469h3v1h-3zM221 469h2v1h-2zM514 469h3v1h-3zM664 469h3v1h-3zM712 469h3v1h-3zM292 431h3v1h-3zM298 431h3v1h-3zM352 431h3v1h-3zM358 431h3v1h-3zM413 464h2v1h-2zM436 464h3v1h-3zM310 434h3v1h-3zM335 434h2v1h-2zM340 434h3v1h-3zM550 476h3v1h-3zM556 476h3v1h-3zM568 478h3v1h-3zM574 478h2v1h-2zM5 429h2v1h-2zM826 487h3v1h-3zM544 475h3v1h-3zM634 475h3v1h-3zM772 475h3v1h-3zM778 475h2v1h-2zM838 489h3v1h-3zM96 453h2v1h-2zM820 485h3v1h-3zM851 485h2v1h-2zM47 437h3v1h-3zM322 437h3v1h-3zM376 437h2v1h-2zM138 471h2v1h-2zM143 471h3v1h-3zM149 471h3v1h-3zM155 471h3v1h-3zM161 471h3v1h-3zM520 471h3v1h-3zM652 471h3v1h-3zM592 483h3v1h-3zM598 483h3v1h-3zM604 483h3v1h-3zM814 483h3v1h-3zM65 443h3v1h-3zM35 433h3v1h-3zM304 433h3v1h-3zM580 480h3v1h-3zM538 474h3v1h-3zM640 474h3v1h-3zM766 474h3v1h-3zM29 430h2v1h-2zM832 488h3v1h-3zM844 488h3v1h-3zM72 445h2v1h-2zM132 470h2v1h-2zM167 470h3v1h-3zM173 470h3v1h-3zM658 470h3v1h-3zM718 470h3v1h-3zM101 455h3v1h-3zM11 427h3v1h-3zM17 427h3v1h-3zM108 458h2v1h-2zM460 458h3v1h-3zM466 458h3v1h-3zM472 458h3v1h-3zM478 458h3v1h-3zM42 435h2v1h-2zM371 435h2v1h-2zM586 481h3v1h-3zM616 481h3v1h-3zM808 481h3v1h-3zM287 432h2v1h-2zM346 432h3v1h-3zM364 432h3v1h-3zM77 446h3v1h-3zM610 482h3v1h-3zM23 428h2v1h-2zM442 462h3v1h-3zM89 450h2v1h-2zM83 447h2v1h-2zM53 439h3v1h-3zM223 468h1v1h-1zM71 444h1v1h-1zM282 435h1v1h-1zM576 479h1v1h-1zM862 479h1v1h-1zM274 443h1v1h-1zM258 459h1v1h-1zM508 466h1v1h-1zM257 460h1v1h-1zM263 455h1v1h-1zM281 436h1v1h-1zM395 452h1v1h-1zM869 473h1v1h-1zM858 481h1v1h-1zM120 464h1v1h-1zM259 458h1v1h-1zM646 473h1v1h-1zM850 486h1v1h-1zM383 441h1v1h-1zM7 428h1v1h-1zM85 448h1v1h-1zM780 476h1v1h-1zM396 453h1v1h-1zM107 457h1v1h-1zM280 437h1v1h-1zM31 431h1v1h-1zM388 446h1v1h-1zM121 465h1v1h-1zM253 462h1v1h-1zM131 469h1v1h-1zM370 434h1v1h-1zM857 482h1v1h-1zM252 463h1v1h-1zM384 442h1v1h-1zM406 460h1v1h-1zM95 452h1v1h-1zM334 435h1v1h-1zM137 470h1v1h-1zM856 483h1v1h-1zM378 438h1v1h-1zM91 451h1v1h-1zM389 447h1v1h-1zM270 447h1v1h-1zM400 456h1v1h-1zM127 468h1v1h-1zM251 464h1v1h-1zM628 478h1v1h-1zM870 472h1v1h-1zM268 449h1v1h-1zM269 448h1v1h-1zM390 448h1v1h-1zM113 460h1v1h-1zM401 457h1v1h-1zM276 441h1v1h-1zM394 451h1v1h-1zM412 463h1v1h-1zM264 454h1v1h-1zM119 463h1v1h-1zM874 469h1v1h-1zM286 433h1v1h-1zM265 453h1v1h-1zM25 429h1v1h-1zM622 480h1v1h-1zM382 440h1v1h-1zM670 468h1v1h-1zM864 477h1v1h-1zM863 478h1v1h-1zM41 434h1v1h-1zM402 458h1v1h-1zM275 442h1v1h-1zM868 474h1v1h-1z"/>
</g>
<g clip-path="url(#c3)">
<line x1="6" y1="524.5" x2="1107" y2="524.5" stroke="#c0c0c0" stroke-dasharray="3,3"/>
<line x1="6" y1="559.5" x2="1107" y2="559.5" stroke="#c0c0c0" stroke-dasharray="3,3"/>
<path fill="#1e90ff" d="M113 548h3v1h-3zM120 548h4v1h-4zM216 548h2v1h-2zM508 548h4v1h-4zM520 548h3v1h-3zM707 548h2v1h-2zM714 548h2v1h-2zM748 548h4v1h-4zM835 548h2v1h-2zM11 525h2v1h-2zM16 525h2v1h-2zM25 525h3v1h-3zM35 525h2v1h-2zM341 525h5v1h-5zM109 550h2v1h-2zM130 550h2v1h-2zM488 550h4v1h-4zM525 550h3v1h-3zM531 550h2v1h-2zM547 550h2v1h-2zM592 550h2v1h-2zM754 550h2v1h-2zM181 546h2v1h-2zM498 546h2v1h-2zM597 546h3v1h-3zM641 546h5v1h-5zM703 546h2v1h-2zM717 546h7v1h-7zM730 546h2v1h-2zM740 546h2v1h-2zM13 526h3v1h-3zM37 526h10v1h-10zM339 526h2v1h-2zM77 529h3v1h-3zM872 529h3v1h-3zM144 545h2v1h-2zM179 545h2v1h-2zM183 545h2v1h-2zM187 545h2v1h-2zM502 545h2v1h-2zM600 545h2v1h-2zM701 545h2v1h-2zM736 545h4v1h-4zM101 551h2v1h-2zM132 551h2v1h-2zM492 551h2v1h-2zM533 551h2v1h-2zM549 551h2v1h-2zM589 551h3v1h-3zM605 551h5v1h-5zM865 528h7v1h-7zM875 528h2v1h-2zM157 541h3v1h-3zM208 541h2v1h-2zM221 541h3v1h-3zM411 541h2v1h-2zM623 541h2v1h-2zM674 541h2v1h-2zM845 541h5v1h-5zM569 561h3v1h-3zM47 527h2v1h-2zM337 527h2v1h-2zM245 517h2v1h-2zM259 517h2v1h-2zM267 520h2v1h-2zM272 520h4v1h-4zM325 520h2v1h-2zM142 544h2v1h-2zM176 544h3v1h-3zM185 544h2v1h-2zM613 544h3v1h-3zM638 544h2v1h-2zM679 544h2v1h-2zM682 544h2v1h-2zM733 544h3v1h-3zM152 539h3v1h-3zM365 539h2v1h-2zM375 539h2v1h-2zM632 539h2v1h-2zM671 539h2v1h-2zM841 539h2v1h-2zM761 556h3v1h-3zM768 556h4v1h-4zM155 540h2v1h-2zM160 540h2v1h-2zM367 540h2v1h-2zM370 540h2v1h-2zM377 540h5v1h-5zM409 540h2v1h-2zM621 540h2v1h-2zM843 540h2v1h-2zM91 543h2v1h-2zM137 543h5v1h-5zM173 543h3v1h-3zM404 543h2v1h-2zM464 543h2v1h-2zM616 543h2v1h-2zM677 543h2v1h-2zM688 543h4v1h-4zM296 533h3v1h-3zM359 533h2v1h-2zM439 533h2v1h-2zM444 533h4v1h-4zM473 533h2v1h-2zM857 533h3v1h-3zM103 552h2v1h-2zM106 552h2v1h-2zM390 552h2v1h-2zM535 552h2v1h-2zM551 552h2v1h-2zM65 532h3v1h-3zM285 532h11v1h-11zM299 532h2v1h-2zM357 532h2v1h-2zM441 532h3v1h-3zM448 532h6v1h-6zM229 537h3v1h-3zM417 537h9v1h-9zM116 547h4v1h-4zM165 547h5v1h-5zM213 547h3v1h-3zM505 547h3v1h-3zM705 547h2v1h-2zM724 547h6v1h-6zM742 547h2v1h-2zM819 567h2v1h-2zM824 567h4v1h-4zM574 563h2v1h-2zM111 549h2v1h-2zM124 549h6v1h-6zM485 549h3v1h-3zM512 549h8v1h-8zM523 549h2v1h-2zM528 549h3v1h-3zM541 549h6v1h-6zM709 549h5v1h-5zM745 549h3v1h-3zM752 549h2v1h-2zM833 549h2v1h-2zM9 524h2v1h-2zM18 524h2v1h-2zM28 524h7v1h-7zM53 524h9v1h-9zM317 524h3v1h-3zM346 524h2v1h-2zM764 557h4v1h-4zM281 535h2v1h-2zM432 535h4v1h-4zM97 555h2v1h-2zM557 555h2v1h-2zM772 555h4v1h-4zM797 564h5v1h-5zM813 564h2v1h-2zM269 519h3v1h-3zM276 519h2v1h-2zM5 522h2v1h-2zM322 522h2v1h-2zM329 522h3v1h-3zM349 522h2v1h-2zM68 531h7v1h-7zM84 531h2v1h-2zM301 531h3v1h-3zM308 531h2v1h-2zM553 553h2v1h-2zM778 553h2v1h-2zM581 558h5v1h-5zM785 558h5v1h-5zM89 542h2v1h-2zM193 542h15v1h-15zM224 542h2v1h-2zM401 542h3v1h-3zM406 542h2v1h-2zM461 542h3v1h-3zM618 542h2v1h-2zM649 542h9v1h-9zM685 542h3v1h-3zM692 542h2v1h-2zM555 554h2v1h-2zM559 554h2v1h-2zM562 554h2v1h-2zM776 554h2v1h-2zM149 538h3v1h-3zM232 538h6v1h-6zM373 538h2v1h-2zM629 538h3v1h-3zM669 538h2v1h-2zM429 534h3v1h-3zM436 534h3v1h-3zM475 534h2v1h-2zM860 534h2v1h-2zM7 523h2v1h-2zM22 523h2v1h-2zM320 523h2v1h-2zM351 523h2v1h-2zM75 530h2v1h-2zM80 530h4v1h-4zM304 530h4v1h-4zM310 530h2v1h-2zM853 530h2v1h-2zM572 562h2v1h-2zM794 562h2v1h-2zM426 536h2v1h-2zM265 521h2v1h-2zM327 521h2v1h-2zM332 521h2v1h-2zM805 568h5v1h-5zM821 568h3v1h-3zM815 565h2v1h-2zM817 566h2v1h-2zM828 566h2v1h-2zM252 509h2v1h-2zM257 518h2v1h-2zM790 559h2v1h-2zM247 516h2v1h-2zM744 548h1v1h-1zM316 525h1v1h-1zM665 529h1v2h-1zM467 540h1v2h-1zM695 547h1v4h-1zM278 522h1v4h-1zM50 527h1v1h-1zM262 517h1v1h-1zM637 543h1v1h-1zM648 543h1v1h-1zM239 533h1v2h-1zM782 552h1v2h-1zM255 512h1v3h-1zM804 567h1v1h-1zM796 563h1v1h-1zM839 542h1v2h-1zM170 546h1v1h-1zM335 524h1v1h-1zM588 552h1v2h-1zM831 556h1v4h-1zM851 534h1v3h-1zM455 534h1v2h-1zM163 543h1v2h-1zM668 535h1v2h-1zM251 511h1v2h-1zM428 535h1v1h-1zM94 546h1v3h-1zM135 547h1v2h-1zM470 537h1v1h-1zM587 554h1v2h-1zM576 564h1v1h-1zM850 537h1v3h-1zM568 560h1v1h-1zM97 556h1v1h-1zM148 539h1v2h-1zM694 544h1v3h-1zM781 551h1v1h-1zM413 542h1v1h-1zM698 552h1v2h-1zM416 538h1v1h-1zM162 541h1v2h-1zM146 543h1v2h-1zM227 539h1v2h-1zM334 522h1v2h-1zM93 544h1v2h-1zM454 533h1v1h-1zM86 533h1v3h-1zM393 550h1v1h-1zM830 560h1v4h-1zM667 533h1v2h-1zM758 553h1v1h-1zM716 547h1v1h-1zM363 536h1v2h-1zM759 554h1v1h-1zM660 539h1v1h-1zM792 560h1v1h-1zM784 556h1v2h-1zM838 544h1v2h-1zM732 545h1v1h-1zM481 544h1v2h-1zM219 544h1v2h-1zM537 553h1v1h-1zM664 531h1v2h-1zM833 550h1v2h-1zM496 548h1v1h-1zM134 549h1v2h-1zM853 529h1v1h-1zM250 513h1v2h-1zM280 530h1v4h-1zM238 535h1v2h-1zM500 545h1v1h-1zM626 541h1v1h-1zM52 525h1v1h-1zM400 543h1v1h-1zM283 534h1v1h-1zM108 551h1v1h-1zM348 523h1v1h-1zM172 544h1v1h-1zM279 526h1v4h-1zM100 552h1v1h-1zM257 517h1v1h-1zM783 554h1v2h-1zM397 546h1v1h-1zM336 525h1v2h-1zM191 544h1v1h-1zM242 526h1v3h-1zM620 541h1v1h-1zM254 510h1v2h-1zM586 556h1v2h-1zM864 529h1v2h-1zM849 540h1v1h-1zM810 567h1v1h-1zM89 541h1v1h-1zM602 546h1v2h-1zM666 531h1v2h-1zM457 537h1v1h-1zM382 542h1v2h-1zM697 554h1v2h-1zM415 539h1v2h-1zM385 548h1v1h-1zM458 538h1v1h-1zM469 538h1v1h-1zM218 546h1v2h-1zM210 542h1v2h-1zM700 547h1v2h-1zM852 531h1v3h-1zM577 565h1v1h-1zM663 533h1v2h-1zM96 552h1v3h-1zM256 515h1v2h-1zM480 542h1v2h-1zM408 541h1v1h-1zM684 543h1v1h-1zM837 546h1v2h-1zM24 524h1v1h-1zM99 553h1v2h-1zM381 541h1v1h-1zM696 551h1v3h-1zM780 552h1v1h-1zM832 552h1v4h-1zM133 552h1v1h-1zM647 544h1v1h-1zM313 528h1v1h-1zM263 518h1v2h-1zM628 539h1v1h-1zM88 538h1v3h-1zM612 545h1v2h-1zM392 551h1v1h-1zM384 546h1v2h-1zM604 549h1v2h-1zM281 534h1v1h-1zM281 536h1v1h-1zM699 549h1v3h-1zM220 542h1v2h-1zM137 544h1v1h-1zM243 522h1v4h-1zM472 534h1v1h-1zM539 551h1v1h-1zM611 547h1v2h-1zM863 531h1v1h-1zM245 518h1v1h-1zM760 555h1v1h-1zM812 565h1v1h-1zM793 561h1v1h-1zM479 539h1v3h-1zM62 526h1v2h-1zM95 549h1v3h-1zM483 547h1v1h-1zM244 519h1v3h-1zM399 544h1v1h-1zM383 544h1v2h-1zM662 535h1v2h-1zM603 548h1v1h-1zM855 531h1v1h-1zM459 539h1v2h-1zM856 532h1v1h-1zM460 541h1v1h-1zM64 530h1v2h-1zM482 546h1v1h-1zM190 545h1v1h-1zM580 559h1v2h-1zM634 540h1v1h-1zM676 542h1v1h-1zM61 525h1v1h-1zM471 535h1v2h-1zM354 526h1v2h-1zM315 526h1v1h-1zM147 541h1v2h-1zM387 550h1v2h-1zM87 536h1v2h-1zM862 532h1v2h-1zM414 541h1v1h-1zM171 545h1v1h-1zM212 545h1v2h-1zM466 542h1v1h-1zM49 528h1v1h-1zM361 534h1v1h-1zM877 527h1v1h-1zM394 549h1v1h-1zM595 548h1v1h-1zM565 556h1v1h-1zM504 546h1v1h-1zM356 530h1v2h-1zM136 545h1v2h-1zM277 520h1v2h-1zM372 539h1v1h-1zM478 537h1v2h-1zM353 524h1v2h-1zM386 549h1v1h-1zM610 549h1v2h-1zM211 544h1v1h-1zM63 528h1v2h-1zM693 543h1v1h-1zM284 533h1v1h-1zM640 545h1v1h-1zM538 552h1v1h-1zM579 561h1v2h-1zM241 529h1v2h-1zM811 566h1v1h-1zM564 555h1v1h-1zM105 553h1v1h-1zM829 564h1v2h-1zM495 549h1v1h-1zM237 537h1v1h-1zM625 542h1v1h-1zM355 528h1v2h-1zM21 522h1v1h-1zM477 535h1v2h-1zM314 527h1v1h-1zM253 508h1v1h-1zM701 546h1v1h-1zM659 540h1v1h-1zM803 566h1v1h-1zM192 543h1v1h-1zM226 541h1v1h-1zM249 515h1v1h-1zM594 549h1v1h-1zM261 516h1v1h-1zM636 542h1v1h-1zM51 526h1v1h-1zM484 548h1v1h-1zM578 563h1v2h-1zM802 565h1v1h-1zM396 547h1v1h-1zM388 552h1v1h-1zM681 545h1v1h-1zM85 532h1v1h-1zM389 553h1v1h-1zM757 552h1v1h-1zM567 558h1v2h-1zM673 540h1v1h-1zM362 535h1v1h-1zM635 541h1v1h-1zM540 550h1v1h-1zM164 545h1v2h-1zM240 531h1v2h-1zM468 539h1v1h-1zM646 545h1v1h-1zM312 529h1v1h-1zM324 521h1v1h-1zM145 546h1v1h-1zM840 540h1v2h-1zM252 510h1v1h-1zM566 557h1v1h-1zM494 550h1v1h-1zM661 537h1v2h-1zM264 520h1v1h-1zM658 541h1v1h-1zM669 537h1v1h-1zM756 551h1v1h-1zM369 541h1v1h-1zM497 547h1v1h-1zM627 540h1v1h-1zM364 538h1v1h-1zM20 523h1v1h-1zM398 545h1v1h-1zM561 553h1v1h-1zM395 548h1v1h-1zM596 547h1v1h-1zM456 536h1v1h-1zM228 538h1v1h-1zM501 544h1v1h-1zM189 546h1v1h-1z"/>
</g>
</svg>
<div class="tick" style="top:53px"></div><div class="ax" style="left:1113px;top:50px">7.18620</div>
<div class="tick" style="top:86px"></div><div class="ax" style="left:1113px;top:83px">7.15390</div>
<div class="tick" style="top:119px"></div><div class="ax" style="left:1113px;top:116px">7.12065</div>
<div class="tick" style="top:152px"></div><div class="ax" style="left:1113px;top:149px">7.08835</div>
<div class="tick" style="top:185px"></div><div class="ax" style="left:1113px;top:182px">7.05510</div>
<div class="tick" style="top:218px"></div><div class="ax" style="left:1113px;top:215px">7.02280</div>
<div class="tick" style="top:251px"></div><div class="ax" style="left:1113px;top:248px">6.98955</div>
<div class="tick" style="top:284px"></div><div class="ax" style="left:1113px;top:281px">6.95725</div>
<div class="tick" style="top:317px"></div><div class="ax" style="left:1113px;top:314px">6.92400</div>
<div class="tick" style="top:350px"></div><div class="ax" style="left:1113px;top:347px">6.89170</div>
<div class="tick" style="top:383px"></div><div class="ax" style="left:1113px;top:380px">6.85845</div>
<div class="tick" style="top:416px"></div><div class="ax" style="left:1113px;top:413px">6.82615</div>
<div class="tick" style="top:423px;width:1px"></div><div class="ax" style="left:1111px;top:425px;transform:scaleX(0.94)">0.061119</div>
<div class="tick" style="top:467px;width:1px"></div><div class="ax" style="left:1111px;top:464px;transform:scaleX(0.94)">0.00</div>
<div class="tick" style="top:494px;width:1px"></div><div class="ax" style="left:1111px;top:485px;transform:scaleX(0.94)">-0.03877</div>
<div class="tick" style="top:499px;width:1px"></div><div class="ax" style="left:1111px;top:501px;transform:scaleX(0.94)">100</div>
<div class="ax" style="left:1111px;top:521px;transform:scaleX(0.94)">70</div>
<div class="ax" style="left:1111px;top:556px;transform:scaleX(0.94)">30</div>
<div class="tick" style="top:584px;width:1px"></div><div class="ax" style="left:1111px;top:575px;transform:scaleX(0.94)">0</div>
<div class="tag" style="top:33px;background:#ff0000;height:11px"></div><div class="ax" style="left:1113px;top:35px;color:#fff">7.20085</div>
<div class="tag" style="top:134px;background:#ff0000;height:11px"></div><div class="ax" style="left:1113px;top:136px;color:#fff">7.10023</div>
<div class="tag" style="top:221px;background:#000000;height:11px"></div><div class="ax" style="left:1113px;top:223px;color:#fff">7.01497</div>
<div class="abs" style="left:1107px;top:226px;width:1px;height:1px;background:#fff"></div>
<div class="tag" style="top:234px;background:#00ff00;height:11px"></div><div class="ax" style="left:1113px;top:236px;color:#fff">7.00062</div>
<div class="tag" style="top:353px;background:#0000cd;height:11px"></div><div class="ax" style="left:1113px;top:355px;color:#fff">6.88207</div>
<svg class="abs" style="left:8px;top:32px" width="7" height="4" shape-rendering="crispEdges"><path d="M3 0h1v1h-1zM2 1h3v1h-3zM1 2h5v1h-5zM0 3h7v1h-7z" fill="#000"/></svg>
<div class="ax" style="left:20px;top:30px;transform:scaleX(0.9678)">USDCNH,Daily</div>
<div class="ax" style="left:92px;top:30px;transform:scaleX(0.9221)">6.99100 7.01725 6.98297 7.01497</div>
<div class="ax" style="left:9px;top:427px;transform:scaleX(0.939)">MACD(12,26,9) 0.014441 -0.001132</div>
<div class="ax" style="left:9px;top:503px;transform:scaleX(0.9307)">RSI(14) 67.7411</div>
<div class="dt" style="left:5px"></div><div class="dl" style="left:4px;transform:scaleX(0.9496)">24 May 2019</div>
<div class="dt" style="left:69px"></div><div class="dl" style="left:68px;transform:scaleX(0.9102)">12 Jun 2019</div>
<div class="dt" style="left:133px"></div><div class="dl" style="left:132px;transform:scaleX(0.908)">1 Jul 2019</div>
<div class="dt" style="left:197px"></div><div class="dl" style="left:196px;transform:scaleX(0.8877)">19 Jul 2019</div>
<div class="dt" style="left:261px"></div><div class="dl" style="left:260px;transform:scaleX(0.9545)">7 Aug 2019</div>
<div class="dt" style="left:325px"></div><div class="dl" style="left:324px;transform:scaleX(0.9401)">26 Aug 2019</div>
<div class="dt" style="left:389px"></div><div class="dl" style="left:388px;transform:scaleX(0.9151)">13 Sep 2019</div>
<div class="dt" style="left:453px"></div><div class="dl" style="left:452px;transform:scaleX(0.9342)">2 Oct 2019</div>
<div class="dt" style="left:517px"></div><div class="dl" style="left:516px;transform:scaleX(0.9306)">21 Oct 2019</div>
<div class="dt" style="left:581px"></div><div class="dl" style="left:580px;transform:scaleX(0.9522)">8 Nov 2019</div>
<div class="dt" style="left:645px"></div><div class="dl" style="left:644px;transform:scaleX(0.9294)">27 Nov 2019</div>
<div class="dt" style="left:709px"></div><div class="dl" style="left:708px;transform:scaleX(0.8976)">16 Dec 2019</div>
<div class="dt" style="left:773px"></div><div class="dl" style="left:772px;transform:scaleX(0.8993)">3 Jan 2020</div>
<div class="dt" style="left:837px"></div><div class="dl" style="left:836px;transform:scaleX(0.892)">22 Jan 2020</div>
<svg class="abs" style="left:0;top:40px" width="240" height="75" shape-rendering="crispEdges">
<defs>
<linearGradient id="pg" gradientUnits="userSpaceOnUse" x1="0" y1="5" x2="0" y2="69"><stop offset="0" stop-color="#5454ff"/><stop offset="0.38" stop-color="#3131df"/><stop offset="1" stop-color="#0101a6"/></linearGradient>
<linearGradient id="bg" gradientUnits="userSpaceOnUse" x1="0" y1="7" x2="0" y2="25"><stop offset="0" stop-color="#f2f2f2"/><stop offset="0.42" stop-color="#e9e9e9"/><stop offset="0.42" stop-color="#dadada"/><stop offset="1" stop-color="#cfcfcf"/></linearGradient>
<linearGradient id="pg2" gradientUnits="userSpaceOnUse" x1="0" y1="-55.3" x2="0" y2="8.7"><stop offset="0" stop-color="#5454ff"/><stop offset="0.38" stop-color="#3131df"/><stop offset="1" stop-color="#0101a6"/></linearGradient>
</defs>
<rect x="7" y="4" width="221" height="66" fill="#fff"/>
<polygon points="8,5 60,5 60,29 117,29 117,69 8,69" fill="#0000a8"/>
<polygon points="9,6 59,6 59,30 117,30 117,69 9,69" fill="url(#pg)"/>
<polygon points="227,5 175,5 175,29 119,29 119,69 227,69" fill="#0000a8"/>
<polygon points="226,6 176,6 176,30 120,30 120,69 226,69" fill="url(#pg)"/>
<rect x="12" y="28" width="44" height="1" fill="#000090"/><rect x="12" y="29" width="44" height="1" fill="#7676f2"/>
<rect x="179" y="28" width="44" height="1" fill="#000090"/><rect x="179" y="29" width="44" height="1" fill="#7676f2"/>
<rect x="62.5" y="5.5" width="110" height="21" fill="#fff" stroke="#a9a9b2" stroke-width="1"/>
<rect x="83" y="6" width="1" height="20" fill="#a9a9b2"/><rect x="151" y="6" width="1" height="20" fill="#a9a9b2"/>
<rect x="64" y="7" width="18" height="18" fill="url(#bg)"/>
<rect x="153" y="7" width="18" height="18" fill="url(#bg)"/>
<polygon points="70,14 76,14 73,17.5" fill="#4a64c4" shape-rendering="auto"/>
<polygon points="159,17 165,17 162,13.5" fill="#4a64c4" shape-rendering="auto"/>
<g shape-rendering="auto" font-family="Liberation Sans, sans-serif" font-size="35.5" fill="#fff" stroke="url(#pg2)" stroke-width="0.5">
<text transform="translate(54.5,60.3) scale(0.93,1)">49</text>
<text transform="translate(165.5,60.3) scale(0.93,1)">72</text>
</g>
</svg>
<div class="abs pt" style="left:20.5px;top:49px;font-size:13px;line-height:15px;color:#fff;transform-origin:0 0;transform:scaleX(0.8)">SELL</div>
<div class="abs pt" style="left:188.5px;top:49px;font-size:13px;line-height:15px;color:#fff;transform-origin:0 0;transform:scaleX(0.91)">BUY</div>
<div class="abs pt" style="left:117.5px;top:49px;font-size:12.5px;line-height:15px;color:#000;transform-origin:0 0;transform:scaleX(0.96)">16.00</div>
<div class="abs pt" style="left:28px;top:88px;font-size:13px;line-height:15px;font-weight:bold;color:#fff;transform-origin:0 0;transform:scaleX(0.95)">7.01</div>
<div class="abs pt" style="left:138px;top:88px;font-size:13px;line-height:15px;font-weight:bold;color:#fff;transform-origin:0 0;transform:scaleX(0.95)">7.01</div>
<div class="abs pt" style="left:95px;top:73px;font-size:11.5px;line-height:14px;font-weight:bold;color:#fff">7</div>
<div class="abs pt" style="left:206px;top:73px;font-size:11.5px;line-height:14px;font-weight:bold;color:#fff">4</div>

<div class="abs" style="left:0;top:606px;width:1148px;height:1px;background:#dcdcdc"></div>
<div id="tabbar" class="abs"></div>
<div class="abs" style="left:0;top:608px;width:1148px;height:1px;background:#000"></div>
<div class="abs" style="left:0;top:609px;width:2px;height:19px;background:#6c6c6c;border-left:1px solid #a8a8a8"></div>
<div class="abs" style="left:418px;top:607px;width:104px;height:20px;background:#fff;border:1px solid #000;border-top:none"></div>
<div class="tab" style="left:19px;color:#6e6e6e;letter-spacing:-0.065px">EURUSD,Daily</div>
<div class="tab" style="left:121px;color:#6e6e6e;letter-spacing:0.094px">AUDUSD,Daily</div>
<div class="tab" style="left:225px;color:#6e6e6e;letter-spacing:-0.031px">USDCHF,Daily</div>
<div class="tab" style="left:325px;color:#6e6e6e;letter-spacing:-0.031px">USDCAD,Daily</div>
<div class="tab" style="left:429px;color:#000;letter-spacing:0.08px">USDCNH,Daily</div>
<div class="tab" style="left:532px;color:#6e6e6e;letter-spacing:-0.078px">EURGBP,H4</div>
<div class="tab" style="left:622px;color:#6e6e6e;letter-spacing:0.014px">NZDUSD,H1</div>
<div class="tab" style="left:715px;color:#6e6e6e;letter-spacing:-0.139px">GBPUSD,H4</div>
<div class="sep" style="left:110px"></div>
<div class="sep" style="left:214px"></div>
<div class="sep" style="left:314px"></div>
<div class="sep" style="left:610px"></div>
<div class="sep" style="left:702px"></div>
<div class="sep" style="left:794px"></div>
<svg class="abs" style="left:1122px;top:613px" width="26" height="8"><polygon points="0.5,4 4,0.5 4,7.5" fill="#a0a0a0"/><polygon points="20,0.5 23.5,4 20,7.5" fill="#a0a0a0"/></svg>
</div></body></html>
